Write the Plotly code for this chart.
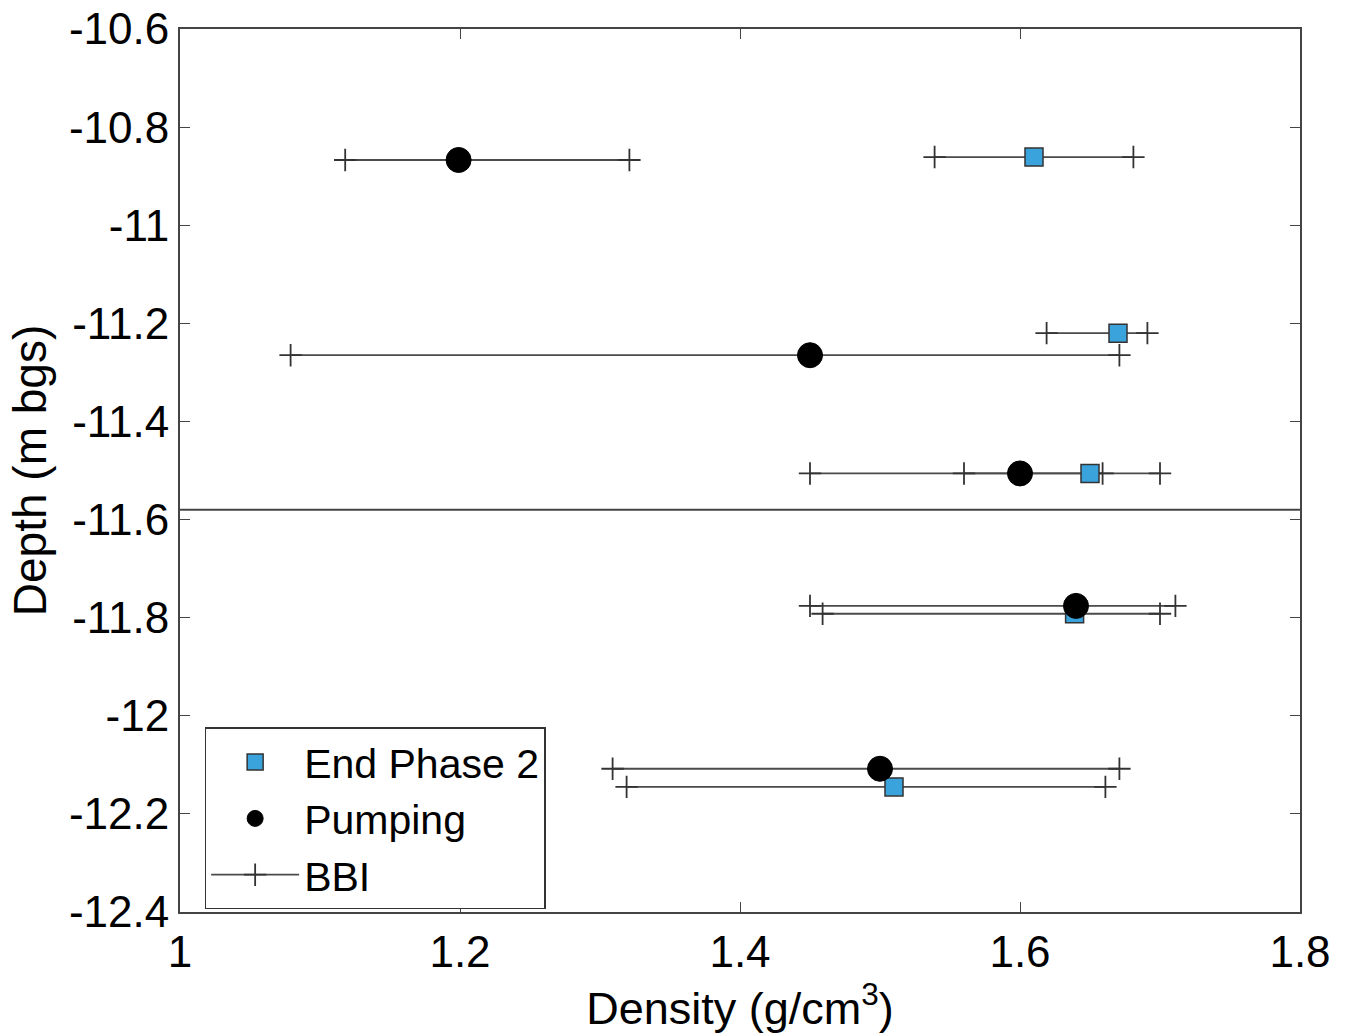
import plotly.graph_objects as go

# End Phase 2 (squares)
ep2_density = [1.61, 1.67, 1.65, 1.639, 1.51]
ep2_depth = [-10.861, -11.220, -11.506, -11.792, -12.145]
ep2_bbi_low = [1.539, 1.619, 1.56, 1.459, 1.319]
ep2_bbi_high = [1.681, 1.691, 1.70, 1.70, 1.661]

# Pumping (circles)
pump_density = [1.199, 1.45, 1.60, 1.64, 1.50]
pump_depth = [-10.867, -11.265, -11.506, -11.776, -12.108]
pump_bbi_low = [1.118, 1.079, 1.45, 1.45, 1.309]
pump_bbi_high = [1.321, 1.671, 1.659, 1.711, 1.671]

boundary_depth = -11.58

x_ticks = [1, 1.2, 1.4, 1.6, 1.8]
y_ticks = [-12.4, -12.2, -12, -11.8, -11.6, -11.4, -11.2, -11, -10.8, -10.6]
y_tick_labels = ["-12.4", "-12.2", "-12", "-11.8", "-11.6", "-11.4", "-11.2", "-11", "-10.8", "-10.6"]

FONT = "Liberation Sans, Arial, sans-serif"

# build BBI segments
bx, by = [], []
for lo, hi, d in zip(ep2_bbi_low + pump_bbi_low, ep2_bbi_high + pump_bbi_high, ep2_depth + pump_depth):
    bx += [lo, hi, None]
    by += [d, d, None]

fig = go.Figure()
fig.add_trace(go.Scatter(
    x=bx, y=by, mode="lines+markers", name="BBI", legendrank=3,
    line=dict(color="#4a4a4a", width=1.8),
    marker=dict(symbol="cross-thin", size=16, line=dict(color="#333333", width=1.8)),
))
fig.add_trace(go.Scatter(
    x=ep2_density, y=ep2_depth, mode="markers", name="End Phase 2", legendrank=1,
    marker=dict(symbol="square", size=18, color="#3aa3dc", line=dict(color="#333333", width=1.5)),
))
fig.add_trace(go.Scatter(
    x=pump_density, y=pump_depth, mode="markers", name="Pumping", legendrank=2,
    marker=dict(symbol="circle", size=25, color="black", line=dict(color="black", width=1)),
))

fig.add_shape(type="line", xref="paper", x0=0, x1=1, yref="y",
              y0=boundary_depth, y1=boundary_depth,
              line=dict(color="#444444", width=2))

fig.update_layout(
    width=1351, height=1036,
    margin=dict(l=180, r=51, t=29, b=124, autoexpand=False),
    paper_bgcolor="white", plot_bgcolor="white",
    font=dict(family=FONT, size=44, color="black"),
    showlegend=True,
    legend=dict(
        x=0.022, y=0.209, xanchor="left", yanchor="top",
        bgcolor="white", bordercolor="#333333", borderwidth=1.5,
        font=dict(size=41), itemwidth=88, tracegroupgap=0,
    ),
    xaxis=dict(
        range=[1, 1.8], tickvals=x_ticks, ticktext=[str(v) for v in x_ticks],
        ticks="inside", ticklen=10, tickcolor="#444444", automargin=False,
        showline=True, linecolor="#444444", linewidth=2, mirror="ticks",
        showgrid=False, zeroline=False,
        title=dict(text="Density (g/cm<sup>3</sup>)", font=dict(size=45), standoff=10),
        tickfont=dict(size=44),
    ),
    yaxis=dict(
        range=[-12.4, -10.6], tickvals=y_ticks, ticktext=y_tick_labels,
        ticks="inside", ticklen=10, tickcolor="#444444", automargin=False,
        showline=True, linecolor="#444444", linewidth=2, mirror="ticks",
        showgrid=False, zeroline=False,
        title=dict(text="Depth (m bgs)", font=dict(size=46), standoff=8),
        tickfont=dict(size=44),
    ),
)

fig.write_html("out.html")
